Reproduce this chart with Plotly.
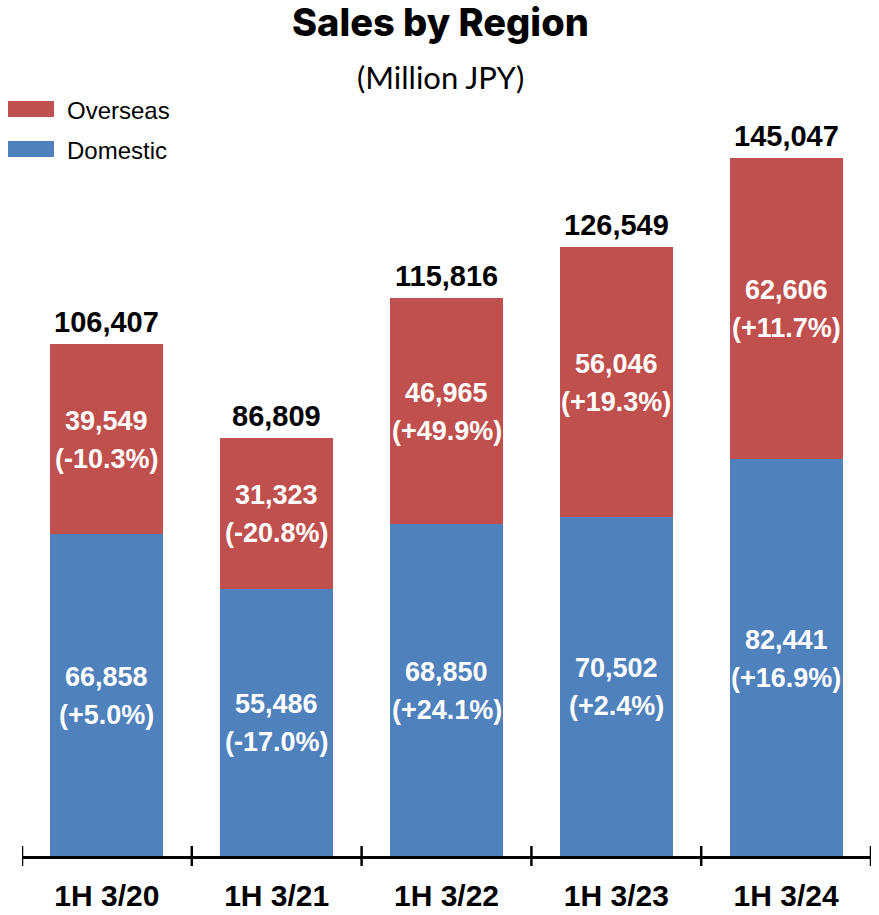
import plotly.graph_objects as go

# Half-year sales split by region (million JPY)
periods = ["1H 3/20", "1H 3/21", "1H 3/22", "1H 3/23", "1H 3/24"]
domestic = [66858, 55486, 68850, 70502, 82441]
overseas = [39549, 31323, 46965, 56046, 62606]
totals = [106407, 86809, 115816, 126549, 145047]
domestic_yoy = ["+5.0%", "-17.0%", "+24.1%", "+2.4%", "+16.9%"]
overseas_yoy = ["-10.3%", "-20.8%", "+49.9%", "+19.3%", "+11.7%"]

BLUE = "#4F81BD"
RED = "#C0504D"
LABEL_FONT = "Liberation Sans, Arial, sans-serif"

fig = go.Figure()
fig.add_trace(go.Bar(x=periods, y=domestic, name="Domestic",
                     marker_color=BLUE, marker_line_width=0))
fig.add_trace(go.Bar(x=periods, y=overseas, name="Overseas",
                     marker_color=RED, marker_line_width=0))

seg_font = dict(family=LABEL_FONT, size=27, color="white", weight="bold")

# Value and YoY change centred in each segment
for p, d, o, dc, oc in zip(periods, domestic, overseas, domestic_yoy, overseas_yoy):
    for mid, val, chg in ((d / 2, d, dc), (d + o / 2, o, oc)):
        fig.add_annotation(x=p, y=mid, text=f"{val:,}", showarrow=False,
                           yanchor="middle", yshift=18, font=seg_font)
        fig.add_annotation(x=p, y=mid, text=f"({chg})", showarrow=False,
                           yanchor="middle", yshift=-20, font=seg_font)

# Totals above each stack
for p, t in zip(periods, totals):
    fig.add_annotation(
        x=p, y=t, text=f"{t:,}", showarrow=False, yanchor="bottom", yshift=4,
        font=dict(family=LABEL_FONT, size=29, color="black", weight="bold"),
    )

# Tick marks at category boundaries, crossing the baseline
tick_half = 10 / 756
for i in range(len(periods) + 1):
    fig.add_shape(type="line", xref="x", yref="paper",
                  x0=i - 0.5, x1=i - 0.5, y0=-tick_half, y1=tick_half,
                  line=dict(color="black", width=2.5))

# Legend drawn as swatches + labels
legend_items = [("Overseas", RED, 0.9987, 0.9775), ("Domestic", BLUE, 0.9458, 0.9246)]
for name, color, y_top, y_bot in legend_items:
    fig.add_shape(type="rect", xref="paper", yref="paper",
                  x0=-14 / 849, x1=32 / 849, y0=y_bot, y1=y_top,
                  fillcolor=color, line_width=0)
    fig.add_annotation(xref="paper", yref="paper", x=43 / 849, y=(y_top + y_bot) / 2,
                       yshift=-2, text=name, showarrow=False,
                       xanchor="left", yanchor="middle",
                       font=dict(family=LABEL_FONT, size=24, color="black"))

# Title and unit
fig.add_annotation(xref="paper", yref="paper", x=0.5 - 6 / 849, y=1, yshift=78,
                   text="Sales by Region", showarrow=False,
                   xanchor="center", yanchor="middle",
                   font=dict(family="Inter, sans-serif", size=38, color="black",
                             weight=800))
fig.add_annotation(xref="paper", yref="paper", x=0.5 - 6 / 849, y=1, yshift=23,
                   text="(Million JPY)", showarrow=False,
                   xanchor="center", yanchor="middle",
                   font=dict(family="Lato, sans-serif", size=31, color="black"))

fig.update_layout(
    width=879, height=915,
    margin=dict(l=22, r=8, t=100, b=59, autoexpand=False),
    barmode="stack", bargap=0.335,
    plot_bgcolor="white", paper_bgcolor="white",
    showlegend=False,
    xaxis=dict(
        type="category", range=[-0.5, len(periods) - 0.5],
        showline=True, linecolor="black", linewidth=2.5,
        ticks="", showgrid=False, zeroline=False, automargin=False,
        tickfont=dict(family=LABEL_FONT, size=30, color="black", weight="bold"),
        ticklabelstandoff=11,
    ),
    yaxis=dict(range=[0, 157000], visible=False, showgrid=False, zeroline=False,
               automargin=False),
)

fig.write_html("out.html")
